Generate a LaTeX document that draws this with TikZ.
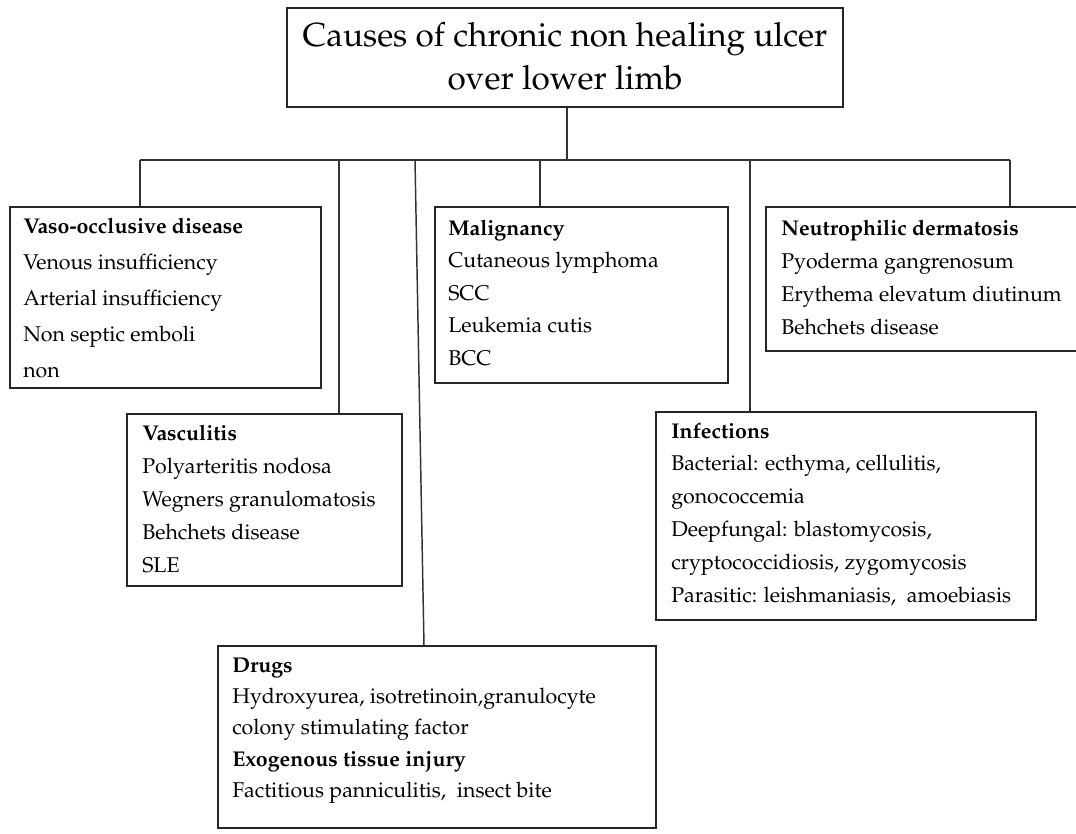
\documentclass[tikz,border=0pt]{standalone}
\usepackage[T1]{fontenc}
\usepackage{mathpazo}
\usetikzlibrary{fit,calc}
\tikzset{
  x=0.75pt, y=-0.75pt,
  box/.style={draw=black!85, line width=1.3pt, inner sep=0pt, rectangle},
  conn/.style={draw=black!80, line width=1.1pt},
  txt/.style={inner sep=0pt, anchor=base west, text=black},
  titletxt/.style={inner sep=0pt, align=center, font=\fontsize{25}{32}\selectfont}
}
\newcommand{\blk}[1]{\parbox[t]{400pt}{#1}}
\begin{document}
\begin{tikzpicture}
\useasboundingbox (0,0) rectangle (1076,833);
\clip (0,0) rectangle (1076,833);
\fill[white] (0,0) rectangle (1076,833);

% boxes
\node[box, fit={(287,8) (843,107)}] (top) {};
\node[titletxt] (title) at (565,56) {Causes of chronic non healing ulcer\\over lower limb};

\node[box, fit={(10,207) (321,388)}] (vaso) {};
\node[txt, font=\fontsize{16}{27}\selectfont] (vasot) at (23,233) {\blk{\textbf{Vaso-occlusive disease}\\Venous insufficiency\\Arterial insufficiency\\Non septic emboli\\non}};

\node[box, fit={(127,414) (402,586)}] (vasc) {};
\node[txt, font=\fontsize{16}{24.75}\selectfont] (vasct) at (142,440) {\blk{\textbf{Vasculitis}\\Polyarteritis nodosa\\Wegners granulomatosis\\Behchets disease\\SLE}};

\node[box, fit={(218,646) (656,828)}] (drug) {};
\node[txt, font=\fontsize{16}{23.6}\selectfont] (drugt) at (232,672) {\blk{\textbf{Drugs}\\Hydroxyurea, isotretinoin,granulocyte\\colony stimulating factor\\\textbf{Exogenous tissue injury}\\Factitious panniculitis,\ \ insect bite}};

\node[box, fit={(435,207) (728,383)}] (malig) {};
\node[txt, font=\fontsize{16}{24.4}\selectfont] (maligt) at (448,235) {\blk{\textbf{Malignancy}\\Cutaneous lymphoma\\SCC\\Leukemia cutis\\BCC}};

\node[box, fit={(766,207) (1090,351)}] (neut) {};
\node[txt, font=\fontsize{16}{24.75}\selectfont] (neutt) at (781,235) {\blk{\textbf{Neutrophilic dermatosis}\\Pyoderma gangrenosum\\Erythema elevatum diutinum\\Behchets disease}};

\node[box, fit={(656,412) (1036,620)}] (inf) {};
\node[txt, font=\fontsize{16}{24.6}\selectfont] (inft) at (671,438) {\blk{\textbf{Infections}\\Bacterial: ecthyma, cellulitis,\\gonococcemia\\Deepfungal: blastomycosis,\\cryptococcidiosis, zygomycosis\\Parasitic: leishmaniasis,\ \ amoebiasis}};

% connectors
\coordinate (bar) at (567,160);
\coordinate (jv) at (140,160);
\coordinate (jc) at (339,160);
\coordinate (jd) at (415,160);
\coordinate (jm) at (540,160);
\coordinate (ji) at (750,160);
\coordinate (jn) at (1010,160);
\coordinate (dtop) at (424,646);

\draw[conn] (bar |- top.south) -- (bar);
\draw[conn] (jv) -- (jn);
\draw[conn] (jv) -- (jv |- vaso.north);
\draw[conn] (jc) -- (jc |- vasc.north);
\draw[conn] (jd) -- (dtop);
\draw[conn] (jm) -- (jm |- malig.north);
\draw[conn] (ji) -- (ji |- inf.north);
\draw[conn] (jn) -- (jn |- neut.north);
\end{tikzpicture}
\end{document}
